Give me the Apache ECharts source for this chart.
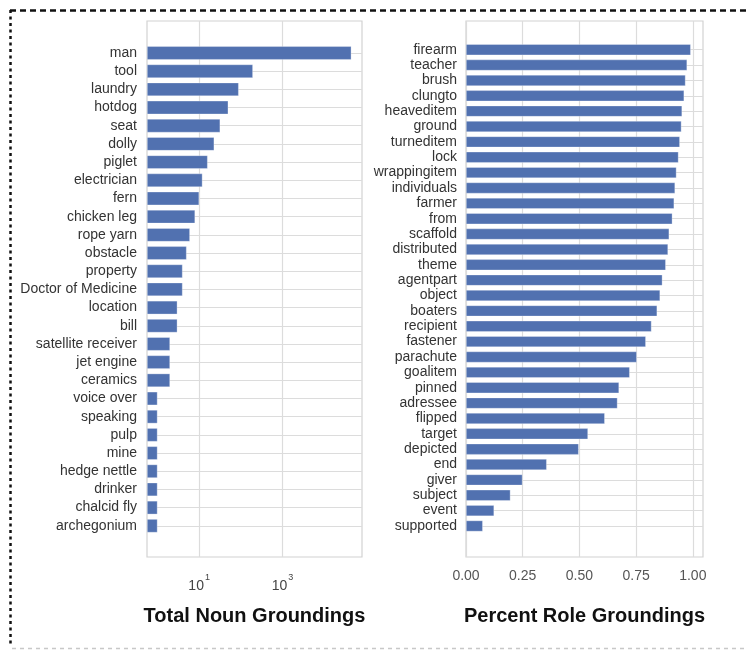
<!DOCTYPE html>
<html><head><meta charset="utf-8">
<script src="https://cdn.jsdelivr.net/npm/echarts@6/dist/echarts.min.js"></script>
<style>html,body{margin:0;padding:0;background:#fff}#c{width:746px;height:650px}</style>
</head><body><div id="c"></div>
<script>
const nounCategories = ['man','tool','laundry','hotdog','seat','dolly','piglet','electrician','fern','chicken leg','rope yarn','obstacle','property','Doctor of Medicine','location','bill','satellite receiver','jet engine','ceramics','voice over','speaking','pulp','mine','hedge nettle','drinker','chalcid fly','archegonium'];
const nounCounts = [45000, 195, 89, 50, 32, 23, 16, 12, 10, 8, 6, 5, 4, 4, 3, 3, 2, 2, 2, 1, 1, 1, 1, 1, 1, 1, 1];
const nounTickValues = [10, 1000];

const roleCategories = ['firearm','teacher','brush','clungto','heaveditem','ground','turneditem','lock','wrappingitem','individuals','farmer','from','scaffold','distributed','theme','agentpart','object','boaters','recipient','fastener','parachute','goalitem','pinned','adressee','flipped','target','depicted','end','giver','subject','event','supported'];
const rolePercents = [0.991, 0.975, 0.968, 0.962, 0.953, 0.950, 0.943, 0.937, 0.928, 0.922, 0.918, 0.910, 0.896, 0.891, 0.881, 0.866, 0.856, 0.843, 0.818, 0.793, 0.753, 0.722, 0.675, 0.668, 0.612, 0.538, 0.497, 0.356, 0.249, 0.196, 0.124, 0.074];
const roleTickValues = [0, 0.25, 0.5, 0.75, 1.0];

const leftTitle = 'Total Noun Groundings';
const rightTitle = 'Percent Role Groundings';

const FONT = "'Liberation Sans', Arial, Helvetica, sans-serif";
const BAR = '#5171b0';
const GRID = '#dcdcdc';
const FRAME = '#d2d2d2';

const chart = echarts.init(document.getElementById('c'), null, {renderer: 'canvas'});
const hidden = {show: false};
const option = {
  backgroundColor: '#fff',
  animation: false,
  textStyle: {fontFamily: FONT},
  grid: [
    {left: 147, top: 21, width: 215, height: 536, show: true, borderColor: FRAME, borderWidth: 1.2, containLabel: false},
    {left: 147, top: 53, width: 215, height: 472.8, containLabel: false},
    {left: 466, top: 21, width: 237, height: 536, show: true, borderColor: FRAME, borderWidth: 1.2, containLabel: false},
    {left: 466, top: 49.7, width: 237, height: 476.3, containLabel: false}
  ],
  xAxis: [
    {type: 'log', gridIndex: 0, min: 0.56, max: 81000, logBase: 10,
     axisLine: hidden, axisTick: {show: false, customValues: nounTickValues},
     splitLine: {show: true, lineStyle: {color: GRID, width: 1.2}},
     axisLabel: {customValues: nounTickValues, margin: 16, color: '#444', fontFamily: FONT,
       formatter: v => '{b|10}{s|' + Math.round(Math.log10(v)) + '}',
       rich: {b: {fontSize: 14, color: '#444', fontFamily: FONT, lineHeight: 20, verticalAlign: 'bottom'},
              s: {fontSize: 9, color: '#444', fontFamily: FONT, lineHeight: 20, verticalAlign: 'top', padding: [0, 0, 0, 1]}}},
     name: leftTitle, nameLocation: 'middle', nameGap: 49,
     nameTextStyle: {fontSize: 20, fontWeight: 'bold', color: '#111', fontFamily: FONT}},
    {type: 'log', gridIndex: 1, min: 0.56, max: 81000, startValue: 0.56, logBase: 10,
     axisLine: hidden, axisTick: hidden, splitLine: hidden, axisLabel: hidden},
    {type: 'value', gridIndex: 2, min: 0, max: 1.045,
     axisLine: hidden, axisTick: {show: false, customValues: roleTickValues},
     splitLine: {show: true, lineStyle: {color: GRID, width: 1.2}},
     axisLabel: {customValues: roleTickValues, margin: 12, fontSize: 14, color: '#555', fontFamily: FONT,
       formatter: v => v.toFixed(2)},
     name: rightTitle, nameLocation: 'middle', nameGap: 49,
     nameTextStyle: {fontSize: 20, fontWeight: 'bold', color: '#111', fontFamily: FONT}},
    {type: 'value', gridIndex: 3, min: 0, max: 1.045,
     axisLine: hidden, axisTick: hidden, splitLine: hidden, axisLabel: hidden}
  ],
  yAxis: [
    {type: 'value', gridIndex: 0, show: false},
    {type: 'category', gridIndex: 1, data: nounCategories, inverse: true, boundaryGap: false,
     axisLine: hidden, axisTick: hidden,
     splitLine: {show: true, lineStyle: {color: GRID, width: 1.2}},
     axisLabel: {fontSize: 14, color: '#333', margin: 10, fontFamily: FONT, interval: 0}},
    {type: 'value', gridIndex: 2, show: false},
    {type: 'category', gridIndex: 3, data: roleCategories, inverse: true, boundaryGap: false,
     axisLine: hidden, axisTick: hidden,
     splitLine: {show: true, lineStyle: {color: GRID, width: 1.2}},
     axisLabel: {fontSize: 14, color: '#333', margin: 9, fontFamily: FONT, interval: 0}}
  ],
  series: [
    {type: 'bar', xAxisIndex: 1, yAxisIndex: 1, data: nounCounts, barWidth: 13.5, clip: false,
     itemStyle: {color: BAR, borderColor: 'rgba(255,255,255,0.5)', borderWidth: 0.6}},
    {type: 'bar', xAxisIndex: 3, yAxisIndex: 3, data: rolePercents, barWidth: 11, clip: false,
     itemStyle: {color: BAR, borderColor: 'rgba(255,255,255,0.5)', borderWidth: 0.6}}
  ],
  graphic: [
    {type: 'line', shape: {x1: 10, y1: 10.5, x2: 746, y2: 10.5}, style: {stroke: '#111', lineWidth: 2.5, lineDash: [6, 4]}, silent: true},
    {type: 'line', shape: {x1: 10.5, y1: 10, x2: 10.5, y2: 646}, style: {stroke: '#111', lineWidth: 2.5, lineDash: [3, 3.5]}, silent: true},
    {type: 'line', shape: {x1: 12, y1: 648.5, x2: 746, y2: 648.5}, style: {stroke: '#c8c8c8', lineWidth: 1.5, lineDash: [4, 4]}, silent: true}
  ]
};
chart.setOption(option);
</script>
</body></html>
